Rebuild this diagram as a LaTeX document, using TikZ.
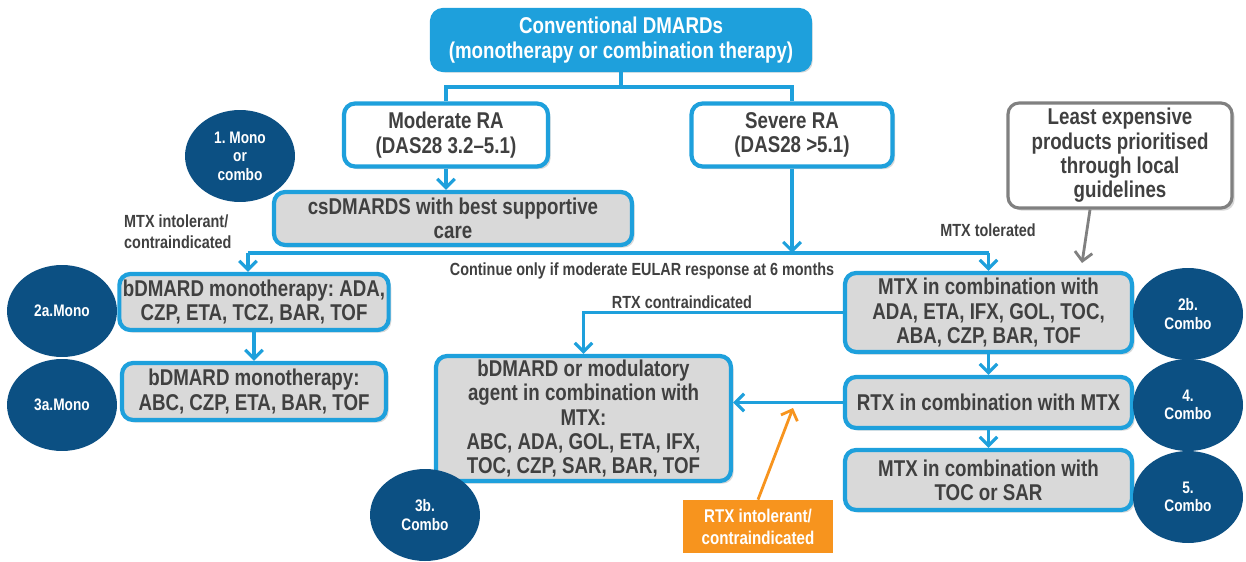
\documentclass[tikz,border=0pt]{standalone}
\usepackage{fontspec}
\setmainfont{Liberation Sans}[FakeStretch=0.82]
\usetikzlibrary{arrows.meta,shadows,shapes.geometric}
\definecolor{cblue}{RGB}{30,160,220}
\definecolor{dblue}{RGB}{12,80,131}
\definecolor{boxgray}{RGB}{217,217,217}
\definecolor{txt}{RGB}{64,64,64}
\definecolor{org}{RGB}{247,148,30}
\definecolor{gbord}{RGB}{128,128,128}
\frenchspacing
\begin{document}
\begin{tikzpicture}[x=0.02cm,y=-0.02cm,
  box/.style={draw=cblue, line width=2.4pt, rounded corners=0.22cm, fill=boxgray, text=txt,
    align=center, inner sep=2pt, font=\fontsize{13}{13.8}\selectfont\bfseries,
    drop shadow={shadow xshift=1.5pt,shadow yshift=-1.5pt,opacity=0.3}},
  wbox/.style={box, fill=white},
  ell/.style={ellipse, fill=dblue, text=white, align=center, inner sep=0pt,
    minimum width=2.2cm, minimum height=1.84cm, font=\fontsize{9.5}{10.5}\selectfont\bfseries},
  conn/.style={draw=cblue, line width=1.8pt},
  arr/.style={conn, -{Straight Barb[length=5pt,width=10pt,line width=1.8pt]}},
  oarr/.style={draw=org, line width=1.6pt, -{Straight Barb[length=5pt,width=10pt,line width=1.6pt]}},
  garr/.style={draw=gbord, line width=1.6pt, -{Straight Barb[length=5pt,width=10pt,line width=1.6pt]}},
  lab/.style={text=txt, align=center, font=\fontsize{10}{12}\selectfont\bfseries},
]
\useasboundingbox (0,0) rectangle (1246,561);

% boxes
\node[box, fill=cblue, text=white, minimum width=7.56cm, minimum height=1.2cm] (top) at (621,40)
  {Conventional DMARDs\\(monotherapy or combination therapy)};
\node[wbox, minimum width=4.08cm, minimum height=1.26cm] (mod) at (446,135) {Moderate RA\\(DAS28 3.2–5.1)};
\node[wbox, minimum width=4.02cm, minimum height=1.26cm] (sev) at (792,135) {Severe RA\\(DAS28 >5.1)};
\node[wbox, draw=gbord, line width=1.8pt, minimum width=4.48cm, minimum height=2.1cm] (least) at (1120,155.5)
  {Least expensive\\products prioritised\\through local\\guidelines};
\node[box, minimum width=7.16cm, minimum height=1.06cm] (cs) at (453,218.5) {csDMARDS with best supportive\\care};
\node[box, minimum width=5.28cm, minimum height=1.12cm] (b2a) at (254,302) {bDMARD monotherapy: ADA,\\CZP, ETA, TCZ, BAR, TOF};
\node[box, minimum width=5.28cm, minimum height=1.14cm] (b3a) at (254,391.5) {bDMARD monotherapy:\\ABC, CZP, ETA, BAR, TOF};
\node[box, minimum width=5.74cm, minimum height=1.58cm] (b2b) at (988.5,312.5) {MTX in combination with\\ADA, ETA, IFX, GOL, TOC,\\ABA, CZP, BAR, TOF};
\node[box, minimum width=5.74cm, minimum height=1.02cm] (b4) at (988.5,402.5) {RTX in combination with MTX};
\node[box, minimum width=5.74cm, minimum height=1.2cm] (b5) at (988.5,480) {MTX in combination with\\TOC or SAR};
\node[box, minimum width=5.9cm, minimum height=2.5cm] (b3b) at (583.5,418.5)
  {bDMARD or modulatory\\agent in combination with\\MTX:\\ABC, ADA, GOL, ETA, IFX,\\TOC, CZP, SAR, BAR, TOF};
\node[fill=org, text=white, minimum width=3cm, minimum height=1.06cm, align=center,
  font=\fontsize{10.5}{12.5}\selectfont\bfseries] (org) at (758,526.5) {RTX intolerant/\\contraindicated};

% ellipses
\node[ell] (e1) at (240,156) {1. Mono\\or\\combo};
\node[ell] (e2a) at (62,311) {2a.Mono};
\node[ell] (e3a) at (62,405) {3a.Mono};
\node[ell] (e2b) at (1188,314) {2b.\\Combo};
\node[ell] (e4) at (1188,405) {4.\\Combo};
\node[ell] (e5) at (1188,497) {5.\\Combo};
\node[ell] (e3b) at (425,515) {3b.\\Combo};

% labels
\node[lab, align=left, anchor=west] (l1) at (118,232) {MTX intolerant/\\contraindicated};
\node[lab] (l2) at (642,271) {Continue only if moderate EULAR response at 6 months};
\node[lab] (l3) at (988,230) {MTX tolerated};
\node[lab] (l4) at (682,302) {RTX contraindicated};

% connectors
\coordinate (j0) at (621,87);
\draw[conn] (top.south) -- (j0);
\draw[conn] (j0) -| (mod.north);
\draw[conn] (j0) -| (sev.north);
\draw[arr] (mod.south) -- (mod.south |- cs.north);
\coordinate (hl) at (248,253);
\coordinate (hr) at (988.5,253);
\draw[conn] (hl) -- (hr);
\draw[arr] (sev.south) -- (sev.south |- hl);
\draw[arr] (hl) -- (hl |- b2a.north);
\draw[arr] (hr) -- (b2b.north);
\draw[arr] (b2a.south) -- (b3a.north);
\draw[arr] (b2b.west) -| (b3b.north);
\draw[arr] (b2b.south) -- (b4.north);
\draw[arr] (b4.south) -- (b5.north);
\draw[arr] (b4.west) -- (b4.west -| b3b.east);
\coordinate (oEnd) at (793,408);
\draw[oarr] (org.north) -- (oEnd);
\coordinate (gEnd) at (1082,263);
\draw[garr] ([xshift=-0.6cm]least.south) -- (gEnd);
\end{tikzpicture}
\end{document}
